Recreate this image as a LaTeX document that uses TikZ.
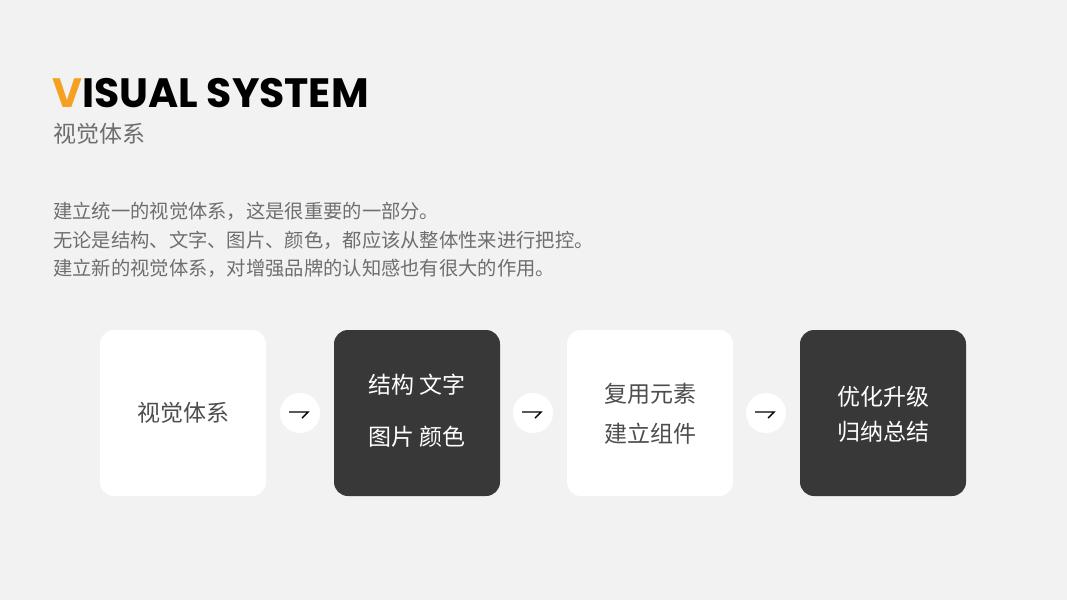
\documentclass[tikz,border=0pt]{standalone}
\usepackage{fontspec}
\setmainfont{Noto Sans CJK SC}
\newfontfamily\cjk{Noto Sans CJK SC}
\newfontfamily\titlefont{Poppins}
\definecolor{bg}{HTML}{F2F2F2}
\definecolor{dark}{HTML}{383838}
\definecolor{txtgray}{HTML}{6E6E6E}
\definecolor{boxtxt}{HTML}{4D4D4D}
\definecolor{orange}{HTML}{F5A020}
\begin{document}
\begin{tikzpicture}[x=1pt,y=-1pt,
  card/.style={minimum width=166pt,minimum height=166pt,rounded corners=14pt,inner sep=0pt},
  lightcard/.style={card,fill=white},
  darkcard/.style={card,fill=dark},
  bubble/.style={circle,fill=white,minimum size=40pt,inner sep=0pt},
  cardtext/.style={font=\cjk\fontsize{23}{27}\selectfont,inner sep=0pt},
  para/.style={anchor=base west,inner sep=0pt,font=\cjk\fontsize{19.3}{23}\selectfont,text=txtgray},
  harpoon/.style={line width=1.4pt,black}]
\fill[bg] (0,0) rectangle (1067,600);
\useasboundingbox (0,0) rectangle (1067,600);
% title
\node[anchor=base west,inner sep=0pt,font=\titlefont\bfseries\fontsize{41}{41}\selectfont] (title) at (52,107)
  {\textcolor{orange}{V}ISUAL SYSTEM};
\node[anchor=base west,inner sep=0pt,font=\cjk\fontsize{23}{27}\selectfont,text=txtgray] (sub) at (53,142) {视觉体系};
% paragraph
\node[para] (p1) at (53,218) {建立统一的视觉体系，这是很重要的一部分。};
\node[para] (p2) at (53,247) {无论是结构、文字、图片、颜色，都应该从整体性来进行把控。};
\node[para] (p3) at (53,275) {建立新的视觉体系，对增强品牌的认知感也有很大的作用。};
% cards
\node[lightcard] (c1) at (183,413) {};
\node[darkcard]  (c2) at (417,413) {};
\node[lightcard] (c3) at (650,413) {};
\node[darkcard]  (c4) at (883,413) {};
\node[cardtext,text=boxtxt] (t1) at (183,413) {视觉体系};
\node[cardtext,text=white] (t2a) at (417,385) {结构 文字};
\node[cardtext,text=white] (t2b) at (417,437) {图片 颜色};
\node[cardtext,text=boxtxt] (t3a) at (650,394) {复用元素};
\node[cardtext,text=boxtxt] (t3b) at (650,434) {建立组件};
\node[cardtext,text=white] (t4a) at (883,397) {优化升级};
\node[cardtext,text=white] (t4b) at (883,432) {归纳总结};
% bubbles with harpoon arrows
\foreach \n/\x in {b1/300,b2/533,b3/766}{
  \node[bubble] (\n) at (\x,413) {};
  \draw[harpoon] ([xshift=-11pt,yshift=1pt]\n.center) -- ([xshift=8pt,yshift=1pt]\n.center) -- ([xshift=2pt,yshift=-5pt]\n.center);
}
\end{tikzpicture}
\end{document}
